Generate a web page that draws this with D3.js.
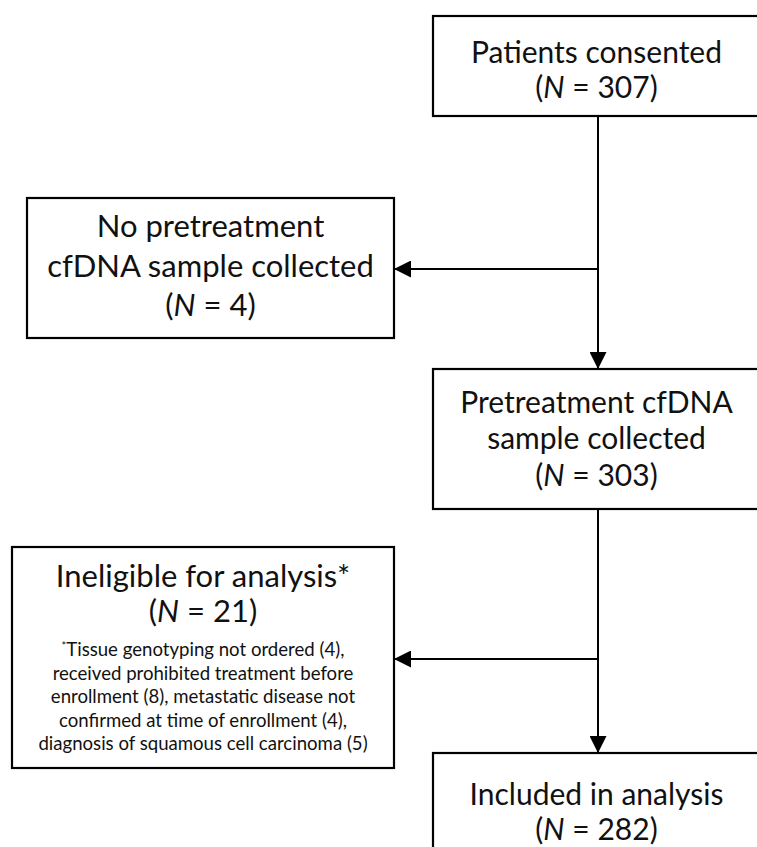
<!DOCTYPE html>
<html>
<head>
<meta charset="utf-8">
<script src="https://cdn.jsdelivr.net/npm/d3@7"></script>
<style>
  body { margin: 0; background: #fff; }
  svg { display: block; }
  text { font-family: Lato, "Open Sans", sans-serif; fill: #111; }
</style>
</head>
<body>
<script>
// main flow steps (right column)
const stepTitles = [["Patients consented"], ["Pretreatment cfDNA", "sample collected"], ["Included in analysis"]];
const stepCounts = [307, 303, 282];

// excluded patients (left column)
const exclTitles = [["No pretreatment", "cfDNA sample collected"], ["Ineligible for analysis*"]];
const exclCounts = [4, 21];
const exclNotes = [[], [
    "*Tissue genotyping not ordered (4),",
    "received prohibited treatment before",
    "enrollment (8), metastatic disease not",
    "confirmed at time of enrollment (4),",
    "diagnosis of squamous cell carcinoma (5)"
]];

const width = 757, height = 847;

const svg = d3.select("body").append("svg")
    .attr("width", width)
    .attr("height", height);

// box geometry
const rightBoxes = [
    {x: 433, y: 16, w: 327, h: 100, lines: [63, 98]},
    {x: 433, y: 369, w: 327, h: 140, lines: [413, 449, 486]},
    {x: 433, y: 753, w: 327, h: 120, lines: [805, 840]}
];
const leftBoxes = [
    {x: 27, y: 198, w: 367, h: 140, lines: [237, 277, 316], size: 31},
    {x: 12, y: 547, w: 382, h: 221, lines: [587, 622], size: 31, noteY: 656, noteStep: 23.5}
];

svg.append("defs").append("marker")
    .attr("id", "arrow")
    .attr("viewBox", "0 0 10 10")
    .attr("refX", 10)
    .attr("refY", 5)
    .attr("markerWidth", 18)
    .attr("markerHeight", 17)
    .attr("markerUnits", "userSpaceOnUse")
    .attr("orient", "auto")
  .append("path")
    .attr("d", "M0,0 L10,5 L0,10 Z")
    .attr("fill", "#000");

const trunkX = 598;

// connectors
const links = [
    {x1: trunkX, y1: rightBoxes[0].y + rightBoxes[0].h, x2: trunkX, y2: rightBoxes[1].y},
    {x1: trunkX, y1: 269, x2: leftBoxes[0].x + leftBoxes[0].w, y2: 269},
    {x1: trunkX, y1: rightBoxes[1].y + rightBoxes[1].h, x2: trunkX, y2: rightBoxes[2].y},
    {x1: trunkX, y1: 659, x2: leftBoxes[1].x + leftBoxes[1].w, y2: 659}
];

svg.selectAll("line.link")
    .data(links)
    .enter().append("line")
    .attr("class", "link")
    .attr("x1", d => d.x1).attr("y1", d => d.y1)
    .attr("x2", d => d.x2).attr("y2", d => d.y2)
    .attr("stroke", "#000")
    .attr("stroke-width", 2)
    .attr("marker-end", "url(#arrow)");

// draw a box with title lines plus the N line
function drawBox(b, title, count, size, notes) {
    const g = svg.append("g");
    g.append("rect")
        .attr("x", b.x).attr("y", b.y)
        .attr("width", b.w).attr("height", b.h)
        .attr("fill", "#fff")
        .attr("stroke", "#000")
        .attr("stroke-width", 2.2);
    const cx = b.x + b.w / 2;
    title.forEach(function(t, i) {
        g.append("text")
            .attr("x", cx).attr("y", b.lines[i])
            .attr("text-anchor", "middle")
            .attr("font-size", size)
            .text(t);
    });
    const n = g.append("text")
        .attr("x", cx).attr("y", b.lines[title.length])
        .attr("text-anchor", "middle")
        .attr("font-size", size);
    n.append("tspan").text("(");
    n.append("tspan").attr("font-style", "italic").text("N");
    n.append("tspan").text(" = " + count + ")");
    (notes || []).forEach(function(t, i) {
        const nt = g.append("text")
            .attr("x", cx).attr("y", b.noteY + i * b.noteStep)
            .attr("text-anchor", "middle")
            .attr("font-size", 18.6);
        if (t[0] === "*") {
            nt.append("tspan").attr("font-size", 11).attr("dy", -6).text("*");
            nt.append("tspan").attr("dy", 6).text(t.slice(1));
        } else {
            nt.text(t);
        }
    });
}

rightBoxes.forEach((b, i) => drawBox(b, stepTitles[i], stepCounts[i], 30));
leftBoxes.forEach((b, i) => drawBox(b, exclTitles[i], exclCounts[i], b.size, exclNotes[i]));
</script>
</body>
</html>
